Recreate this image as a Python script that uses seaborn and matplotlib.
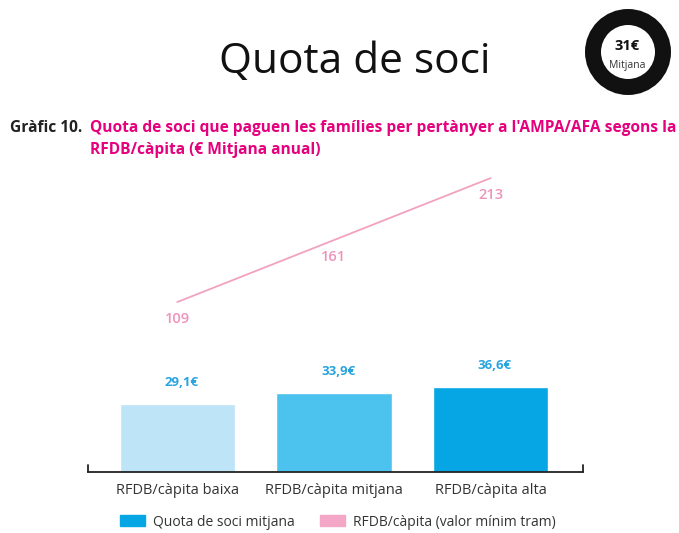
import numpy as np
import pandas as pd
import matplotlib
matplotlib.use("Agg")
import matplotlib.pyplot as plt
from matplotlib.patches import Circle, Patch
import seaborn as sns

# data
categories = ["RFDB/càpita baixa", "RFDB/càpita mitjana", "RFDB/càpita alta"]
quota = [29.1, 33.9, 36.6]
rfdb_min = [109, 161, 213]
bar_colors = ["#BEE4F7", "#4CC2EE", "#06A6E4"]

sns.set_style("white")
plt.rcParams["font.family"] = ["Open Sans", "DejaVu Sans"]

fig = plt.figure(figsize=(6.79, 5.33), dpi=100, facecolor="white")
ax = fig.add_axes([88 / 679, 1 - 472 / 533, (583 - 88) / 679, 302 / 533])

df = pd.DataFrame({"cat": categories, "quota": quota})
sns.barplot(data=df, x="cat", y="quota", hue="cat", palette=bar_colors,
            width=0.735, legend=False, ax=ax, saturation=1)
ax.set_xlim(-0.57, 2.59)
ax.set_ylim(0, 130)
ax.set_xlabel("")
ax.set_ylabel("")
ax.set_yticks([])
ax.tick_params(axis="x", length=0, pad=8, labelsize=10.5, labelcolor="#333333")
for s in ["top", "right", "left"]:
    ax.spines[s].set_visible(False)
ax.spines["bottom"].set_color("#222222")
ax.spines["bottom"].set_linewidth(1.3)
# small end ticks on the axis line
ax.plot([-0.57, -0.57], [0, 3], color="#222222", lw=1.3, clip_on=False)
ax.plot([2.59, 2.59], [0, 3], color="#222222", lw=1.3, clip_on=False)

for i, v in enumerate(quota):
    ax.annotate(f"{v:.1f}€".replace(".", ","), (i, v), xytext=(3, 11),
                textcoords="offset points", ha="center", va="bottom",
                fontsize=9.5, fontweight="bold", color="#2AA4DE")

ax2 = ax.twinx()
sns.lineplot(x=np.arange(3), y=rfdb_min, ax=ax2, color="#F2A2C0", lw=1.3)
ax2.set_ylim(-33.6, 219.8)
ax2.set_yticks([])
ax2.axis("off")
for i, v in enumerate(rfdb_min):
    ax2.annotate(str(v), (i, v), xytext=(0, -12), textcoords="offset points",
                 ha="center", va="center", fontsize=10.5, fontweight="semibold",
                 color="#EE94BA")

# title
fig.text(355 / 679, 1 - 62 / 533, "Quota de soci", ha="center", va="center",
         fontsize=30.5, color="#111111")

# subtitle
fig.text(10 / 679, 1 - 128 / 533, "Gràfic 10.", ha="left", va="center",
         fontsize=11.2, fontweight="bold", color="#222222")
fig.text(90 / 679, 1 - 128 / 533,
         "Quota de soci que paguen les famílies per pertànyer a l'AMPA/AFA segons la",
         ha="left", va="center", fontsize=11.2, fontweight="bold", color="#E5007D")
fig.text(90 / 679, 1 - 150 / 533, "RFDB/càpita (€ Mitjana anual)",
         ha="left", va="center", fontsize=11.2, fontweight="bold", color="#E5007D")

# badge
circ = Circle((628 / 100, (533 - 52) / 100), 0.35, transform=fig.dpi_scale_trans,
              facecolor="white", edgecolor="#111111", lw=11.5)
fig.patches.append(circ)
fig.text(627 / 679, 1 - 46 / 533, "31€", ha="center", va="center",
         fontsize=10.5, fontweight="bold", color="#111111")
fig.text(627 / 679, 1 - 66 / 533, "Mitjana", ha="center", va="center",
         fontsize=7.5, color="#333333")

# legend
handles = [Patch(color="#06A6E4", label="Quota de soci mitjana"),
           Patch(color="#F3A6C6", label="RFDB/càpita (valor mínim tram)")]
fig.legend(handles=handles, loc="center", bbox_to_anchor=(338 / 679, 1 - 522 / 533),
           ncol=2, frameon=False, fontsize=10, handlelength=1.8, handleheight=0.8,
           handletextpad=0.6, columnspacing=1.8, labelcolor="#333333")

fig.savefig("out.png", dpi=100, facecolor="white")
